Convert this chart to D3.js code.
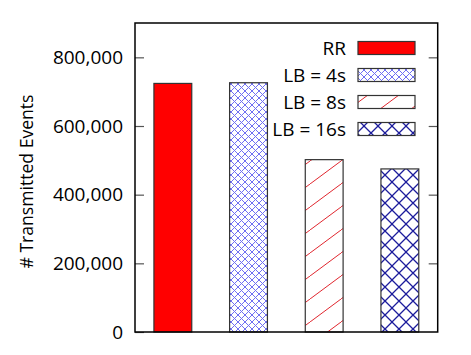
<!DOCTYPE html>
<html>
<head>
<meta charset="utf-8">
<script src="https://d3js.org/d3.v7.min.js"></script>
<style>
    body {
        margin: 0;
        background-color: white;
    }
    svg {
        display: block;
        font-family: "Open Sans", sans-serif;
    }
</style>
</head>
<body>
<svg></svg>
<script>
    const categories = ["RR", "LB = 4s", "LB = 8s", "LB = 16s"];
    const values = [724000, 726000, 502000, 475000];
    const yTicks = [0, 200000, 400000, 600000, 800000];
    const fills = ["solid", "pLB4", "pLB8", "pLB16"];

    function createVis() {
        let width = 471;
        let height = 355;
        let left = 135, right = 437.7, top = 23, bottom = 332;
        let svg = d3.select("svg")
            .attr("width", width)
            .attr("height", height);

        let defs = svg.append("defs");

        // fine light-blue crosshatch
        let p4 = defs.append("pattern").attr("id", "pLB4")
            .attr("patternUnits", "userSpaceOnUse")
            .attr("width", 7).attr("height", 7);
        p4.append("rect").attr("width", 7).attr("height", 7).attr("fill", "white");
        p4.append("path").attr("d", "M0,0L7,7M7,0L0,7")
            .attr("stroke", "#6f6ff2").attr("stroke-width", 1);

        // sparse red diagonals
        let p8 = defs.append("pattern").attr("id", "pLB8")
            .attr("patternUnits", "userSpaceOnUse")
            .attr("width", 31).attr("height", 23);
        p8.append("rect").attr("width", 31).attr("height", 23).attr("fill", "white");
        p8.append("path").attr("d", "M0,23L31,0M-31,23L0,0M31,23L62,0")
            .attr("stroke", "#e0262e").attr("stroke-width", 1);

        // coarse navy crosshatch
        let p16 = defs.append("pattern").attr("id", "pLB16")
            .attr("patternUnits", "userSpaceOnUse")
            .attr("width", 14).attr("height", 14);
        p16.append("rect").attr("width", 14).attr("height", 14).attr("fill", "white");
        p16.append("path").attr("d", "M0,0L14,14M14,0L0,14")
            .attr("stroke", "#1c1c9c").attr("stroke-width", 1.3);

        let fillOf = i => fills[i] === "solid" ? "#ff0000" : `url(#${fills[i]})`;

        let xScale = d3.scaleBand()
            .domain(categories)
            .range([left, right])
            .paddingInner(0.5)
            .paddingOuter(0.25);

        let yScale = d3.scaleLinear()
            .domain([0, 900000])
            .range([bottom, top]);

        // bars
        svg.selectAll(".bar")
            .data(values)
            .join("rect")
            .attr("class", "bar")
            .attr("x", (d, i) => xScale(categories[i]))
            .attr("y", d => yScale(d))
            .attr("width", xScale.bandwidth())
            .attr("height", d => yScale(0) - yScale(d))
            .attr("fill", (d, i) => fillOf(i))
            .attr("stroke", "#333")
            .attr("stroke-width", 1.2);

        // y axis, with mirrored ticks on the right
        let fmt = d3.format(",");
        svg.append("g")
            .attr("transform", `translate(${left},0)`)
            .call(d3.axisLeft(yScale).tickValues(yTicks).tickSizeInner(-9).tickSizeOuter(0).tickPadding(12).tickFormat(fmt))
            .call(g => g.select(".domain").remove())
            .call(g => g.selectAll("line").attr("stroke", "#555").attr("stroke-width", 1.2))
            .call(g => g.selectAll("text").attr("font-size", 19).attr("fill", "black").attr("font-family", "Open Sans"));

        svg.append("g")
            .attr("transform", `translate(${right},0)`)
            .call(d3.axisRight(yScale).tickValues(yTicks.slice(1)).tickSizeInner(-9).tickSizeOuter(0).tickFormat(""))
            .call(g => g.select(".domain").remove())
            .call(g => g.selectAll("line").attr("stroke", "#555").attr("stroke-width", 1.2));

        // frame
        svg.append("rect")
            .attr("x", left).attr("y", top)
            .attr("width", right - left).attr("height", bottom - top)
            .attr("fill", "none")
            .attr("stroke", "black")
            .attr("stroke-width", 1.5);

        // y label
        svg.append("text")
            .attr("transform", "translate(25,181.5) rotate(-90)")
            .attr("text-anchor", "middle")
            .attr("dominant-baseline", "central")
            .attr("font-size", 18.5)
            .attr("textLength", 174)
            .attr("lengthAdjust", "spacingAndGlyphs")
            .text("# Transmitted Events");

        // legend
        let legend = svg.append("g");
        categories.forEach((c, i) => {
            let cy = 48 + i * 27;
            legend.append("text")
                .attr("x", 346)
                .attr("y", cy)
                .attr("text-anchor", "end")
                .attr("dominant-baseline", "central")
                .attr("font-size", 19)
                .text(c);
            legend.append("rect")
                .attr("x", 358)
                .attr("y", cy - 6.5)
                .attr("width", 57)
                .attr("height", 13)
                .attr("fill", fillOf(i))
                .attr("stroke", "#333")
                .attr("stroke-width", 1.2);
        });
    }
    createVis();
</script>
</body>
</html>
